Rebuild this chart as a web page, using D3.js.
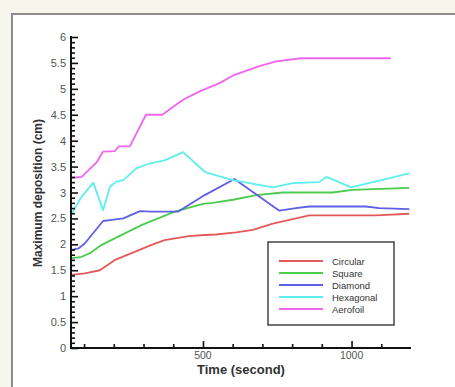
<!DOCTYPE html>
<html><head><meta charset="utf-8">
<script src="https://cdn.jsdelivr.net/npm/d3@7"></script>
<style>
html,body{margin:0;padding:0;background:#f7f6ec;}
svg{display:block;}
</style></head>
<body>
<script>
// ---- data ----
const seriesNames = ["Circular", "Square", "Diamond", "Hexagonal", "Aerofoil"];
const seriesColors = ["#e35a5a", "#4ccc4c", "#5f5fe6", "#5eeeee", "#ee66ee"];

const circularT = [56, 103, 153, 204, 260, 327, 371, 452, 506, 545, 612, 668, 735, 858, 1082, 1194];
const circularV = [1.41, 1.44, 1.50, 1.70, 1.83, 1.99, 2.08, 2.16, 2.18, 2.19, 2.23, 2.28, 2.40, 2.56, 2.56, 2.59];

const squareT = [56, 92, 120, 159, 293, 405, 500, 533, 601, 679, 768, 936, 1003, 1194];
const squareV = [1.73, 1.76, 1.83, 1.99, 2.37, 2.63, 2.78, 2.80, 2.86, 2.95, 3.00, 3.00, 3.05, 3.09];

const diamondT = [56, 81, 103, 164, 193, 232, 288, 327, 416, 444, 506, 606, 757, 813, 858, 1048, 1093, 1194];
const diamondV = [1.89, 1.92, 2.02, 2.45, 2.47, 2.50, 2.64, 2.63, 2.63, 2.73, 2.95, 3.26, 2.65, 2.70, 2.73, 2.73, 2.70, 2.68];

const hexagonalT = [56, 92, 131, 164, 187, 209, 232, 277, 316, 371, 433, 506, 545, 601, 735, 802, 892, 914, 942, 998, 1194];
const hexagonalV = [2.57, 2.92, 3.19, 2.66, 3.11, 3.21, 3.24, 3.47, 3.55, 3.62, 3.78, 3.40, 3.33, 3.24, 3.10, 3.18, 3.20, 3.30, 3.24, 3.10, 3.37];

const aerofoilT = [56, 92, 142, 164, 204, 217, 254, 308, 363, 433, 489, 556, 606, 690, 746, 830, 1132];
const aerofoilV = [3.28, 3.30, 3.58, 3.79, 3.80, 3.89, 3.89, 4.50, 4.50, 4.79, 4.95, 5.11, 5.27, 5.44, 5.53, 5.59, 5.59];

const xMajorTicks = [500, 1000];
const yMajorTicks = [0, 0.5, 1, 1.5, 2, 2.5, 3, 3.5, 4, 4.5, 5, 5.5, 6];
const xDomain = [56, 1200];
const yDomain = [0, 6];

const seriesT = [circularT, squareT, diamondT, hexagonalT, aerofoilT];
const seriesV = [circularV, squareV, diamondV, hexagonalV, aerofoilV];

// ---- drawing ----
(function () {
const W = 455, H = 387;
const svg = d3.select("body").append("svg").attr("width", W).attr("height", H);

// frame
svg.append("rect").attr("x", 12).attr("y", 14).attr("width", 460).attr("height", 400)
  .attr("fill", "#ffffff").attr("stroke", "#8c8c8c").attr("stroke-width", 2);

const pL = 71, pR = 411, pT = 37, pB = 348;
const x = d3.scaleLinear().domain(xDomain).range([pL, pR]);
const y = d3.scaleLinear().domain(yDomain).range([pB, pT]);

const g = svg.append("g");

// lines
const line = d3.line().x(d => x(d[0])).y(d => y(d[1]));
seriesNames.forEach((name, i) => {
  const pts = seriesT[i].map((t, j) => [t, seriesV[i][j]]);
  g.append("path").datum(pts).attr("d", line)
    .attr("fill", "none").attr("stroke", seriesColors[i])
    .attr("stroke-width", 1.8).attr("stroke-linejoin", "round");
});

// y axis (ticks inward)
const yMinor = d3.range(0, 60.5, 1).map(v => v / 10).filter(v => !yMajorTicks.includes(v));
const yAxisMajor = d3.axisRight(y).tickValues(yMajorTicks).tickSize(7).tickFormat("");
const yAxisMinor = d3.axisRight(y).tickValues(yMinor).tickSize(4).tickFormat("");
const ya = g.append("g").attr("transform", `translate(${pL},0)`).call(yAxisMajor);
const ym = g.append("g").attr("transform", `translate(${pL},0)`).call(yAxisMinor);
[ya, ym].forEach(a => { a.select(".domain").remove(); a.selectAll("line").attr("stroke", "#111").attr("stroke-width", 1.6); });

// y tick labels
g.selectAll(".ylab").data(yMajorTicks).enter().append("text")
  .attr("x", pL - 5).attr("y", d => y(d) + 4)
  .attr("text-anchor", "end").attr("font-family", "Arial, Liberation Sans, sans-serif")
  .attr("font-size", 11).attr("fill", "#555").text(d => d);

// x axis (ticks inward = up)
const xMinor = d3.range(100, 1200, 100).filter(v => !xMajorTicks.includes(v));
const xAxisMajor = d3.axisTop(x).tickValues(xMajorTicks).tickSize(7).tickFormat("");
const xAxisMinor = d3.axisTop(x).tickValues(xMinor).tickSize(4).tickFormat("");
const xa = g.append("g").attr("transform", `translate(0,${pB})`).call(xAxisMajor);
const xm = g.append("g").attr("transform", `translate(0,${pB})`).call(xAxisMinor);
[xa, xm].forEach(a => { a.select(".domain").remove(); a.selectAll("line").attr("stroke", "#111").attr("stroke-width", 1.6); });

g.selectAll(".xlab").data(xMajorTicks).enter().append("text")
  .attr("x", d => x(d)).attr("y", pB + 11)
  .attr("text-anchor", "middle").attr("font-family", "Arial, Liberation Sans, sans-serif")
  .attr("font-size", 10.5).attr("fill", "#555").text(d => d);

// axis lines
g.append("line").attr("x1", pL).attr("x2", pL).attr("y1", pT - 1).attr("y2", pB + 1)
  .attr("stroke", "#111").attr("stroke-width", 2);
g.append("line").attr("x1", pL - 1).attr("x2", pR).attr("y1", pB).attr("y2", pB)
  .attr("stroke", "#111").attr("stroke-width", 2);

// axis titles
svg.append("text").attr("x", 241).attr("y", 374).attr("text-anchor", "middle")
  .attr("font-family", "Arial, Liberation Sans, sans-serif").attr("font-weight", "bold")
  .attr("font-size", 13).attr("fill", "#333").text("Time (second)");
svg.append("text").attr("transform", "translate(42,193) rotate(-90)").attr("text-anchor", "middle")
  .attr("font-family", "Arial, Liberation Sans, sans-serif").attr("font-weight", "bold")
  .attr("font-size", 12).attr("fill", "#333").text("Maximum deposition (cm)");

// legend
const lg = svg.append("g");
lg.append("rect").attr("x", 268).attr("y", 242).attr("width", 126).attr("height", 83)
  .attr("fill", "#fff").attr("stroke", "#444").attr("stroke-width", 1.5);
seriesNames.forEach((name, i) => {
  const yy = 261 + i * 12;
  lg.append("line").attr("x1", 279).attr("x2", 323).attr("y1", yy).attr("y2", yy)
    .attr("stroke", seriesColors[i]).attr("stroke-width", 1.8);
  lg.append("text").attr("x", 332).attr("y", yy + 3.5)
    .attr("font-family", "Arial, Liberation Sans, sans-serif").attr("font-size", 9.5)
    .attr("fill", "#333").text(name);
});
})();
</script>
</body></html>
